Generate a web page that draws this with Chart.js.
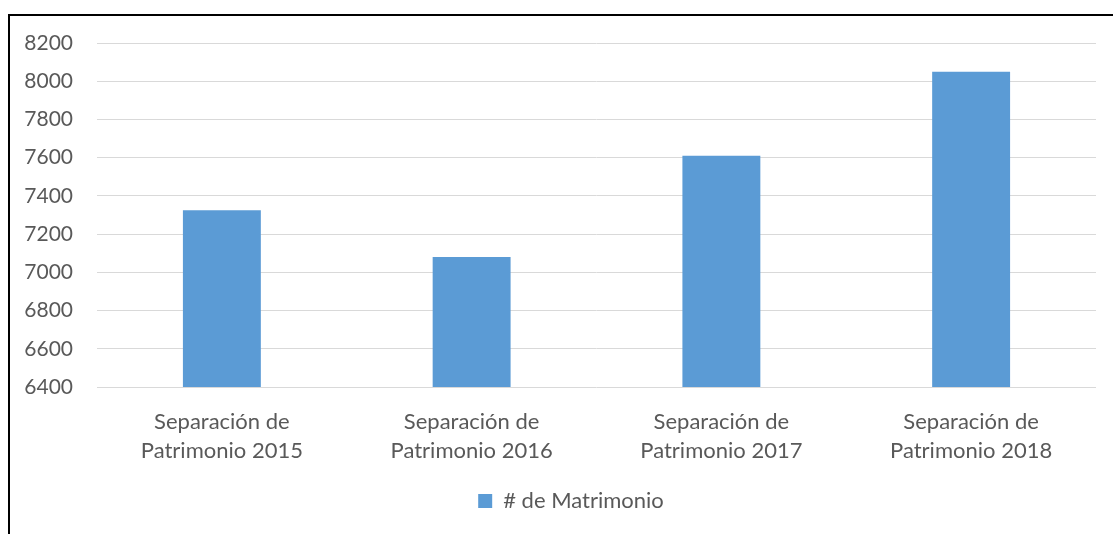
<!DOCTYPE html>
<html>
<head>
<meta charset="utf-8">
<script src="https://cdn.jsdelivr.net/npm/chart.js@4"></script>
<style>
  html, body { margin: 0; padding: 0; background: #fff; }
  #wrap { position: relative; width: 1113px; height: 534px; overflow: hidden; }
  #frame { position: absolute; left: 8px; top: 14px; width: 1200px; height: 600px;
           border-left: 2px solid #000; border-top: 2px solid #000; box-sizing: border-box; }
  canvas { position: absolute; left: 0; top: 0; }
</style>
</head>
<body>
<div id="wrap">
  <div id="frame"></div>
  <canvas id="chart" width="1113" height="534"></canvas>
</div>
<script>
// data
const categories = [
    ['Separación de', 'Patrimonio 2015'],
    ['Separación de', 'Patrimonio 2016'],
    ['Separación de', 'Patrimonio 2017'],
    ['Separación de', 'Patrimonio 2018'],
];
const matrimonios = [7325, 7080, 7610, 8050];
const seriesName = '# de Matrimonio';
const yMin = 6400, yMax = 8200, yStep = 200;

const textColor = '#595959';
const fontFamily = 'Lato, "Open Sans", sans-serif';

// legend in the original sits a bit right of the canvas centre
const shiftLegend = {
    id: 'shiftLegend',
    afterLayout(chart) {
        chart.legend.left += 23;
        chart.legend.right += 23;
    },
};

new Chart(document.getElementById('chart'), {
    type: 'bar',
    data: {
        labels: categories,
        datasets: [{
            label: seriesName,
            data: matrimonios,
            backgroundColor: '#5b9bd5',
            borderWidth: 0,
            categoryPercentage: 1,
            barPercentage: 0.312,
        }],
    },
    options: {
        responsive: false,
        animation: false,
        layout: { padding: { left: 0, right: 17, top: 43, bottom: 12 } },
        plugins: {
            tooltip: { enabled: false },
            legend: {
                position: 'bottom',
                labels: {
                    color: textColor,
                    font: { family: fontFamily, size: 22 },
                    boxWidth: 14,
                    boxHeight: 14,
                    padding: 10,
                },
            },
        },
        scales: {
            x: {
                grid: { display: false },
                border: { display: false },
                ticks: {
                    color: textColor,
                    font: { family: fontFamily, size: 22, lineHeight: 1.3 },
                    padding: 13,
                    maxRotation: 0,
                },
                afterFit: (scale) => { scale.height = 93; },
            },
            y: {
                min: yMin,
                max: yMax,
                grid: { color: '#d9d9d9', lineWidth: 1, drawTicks: false },
                border: { display: false },
                ticks: {
                    stepSize: yStep,
                    color: textColor,
                    font: { family: fontFamily, size: 21 },
                    padding: 24,
                    callback: (v) => String(v),
                },
                afterFit: (scale) => { scale.width = 97; },
            },
        },
    },
    plugins: [shiftLegend],
});
</script>
</body>
</html>
